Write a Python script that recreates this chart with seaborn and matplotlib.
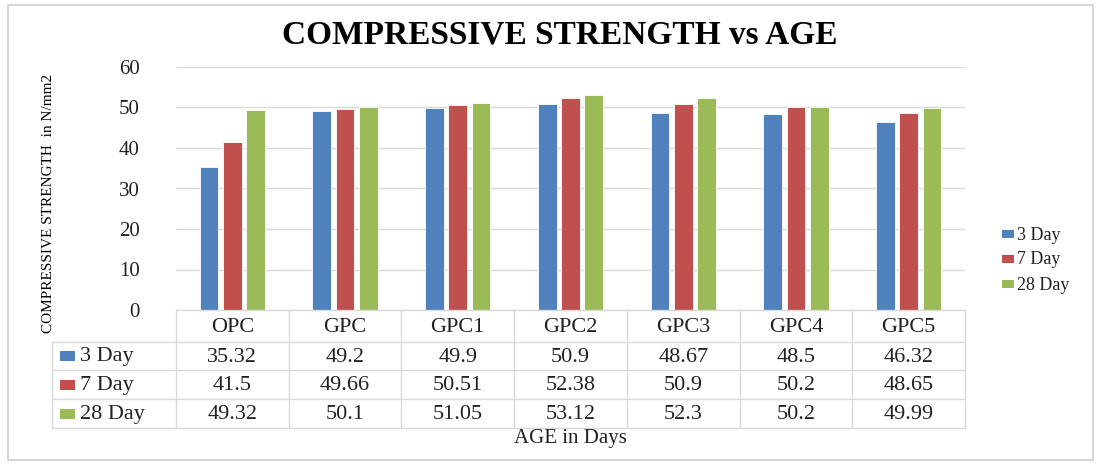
import matplotlib
matplotlib.use("Agg")
import matplotlib.pyplot as plt
import seaborn as sns
import pandas as pd
from matplotlib.patches import Rectangle

categories = ["OPC", "GPC", "GPC1", "GPC2", "GPC3", "GPC4", "GPC5"]
series = ["3 Day", "7 Day", "28 Day"]
day3 = [35.32, 49.2, 49.9, 50.9, 48.67, 48.5, 46.32]
day7 = [41.5, 49.66, 50.51, 52.38, 50.9, 50.2, 48.65]
day28 = [49.32, 50.1, 51.05, 53.12, 52.3, 50.2, 49.99]
colors = ["#4F81BD", "#C0504D", "#9BBB59"]
yticks = [0, 10, 20, 30, 40, 50, 60]

values = [day3, day7, day28]
df = pd.DataFrame({
    "Material": categories * 3,
    "Age": [s for s in series for _ in categories],
    "Strength": day3 + day7 + day28,
})

sns.set_theme(style="white")
plt.rcParams["font.family"] = ["Liberation Serif", "DejaVu Serif"]

W, H = 1100, 465
fig = plt.figure(figsize=(11, 4.65), dpi=100)

def fx(px):
    return px / W

def fy(py):
    return 1 - py / H

# outer chart frame
fig.add_artist(Rectangle((fx(8), fy(460)), fx(1093) - fx(8), fy(5) - fy(460),
                         transform=fig.transFigure, fill=False,
                         edgecolor="#d0d0d0", linewidth=1.2))

# main bar axes
L, R, T, B = 176, 965, 67, 310
ax = fig.add_axes([fx(L), fy(B), fx(R) - fx(L), fy(T) - fy(B)])
sns.barplot(data=df, x="Material", y="Strength", hue="Age", order=categories,
            hue_order=series, palette=colors, width=0.62, gap=0.2,
            edgecolor="white", linewidth=0.6, saturation=1, ax=ax, legend=False)
ax.set_ylim(0, 60)
ax.set_yticks(yticks)
ax.set_yticklabels([str(t) for t in yticks], fontsize=15, color="#222222")
ax.tick_params(axis="y", length=0, pad=26)
ax.set_xticks([])
ax.set_xlabel("")
ax.set_ylabel("")
for s in ax.spines.values():
    s.set_visible(False)
ax.yaxis.grid(True, color="#d9d9d9", linewidth=1.0)
ax.set_axisbelow(True)
ax.set_xlim(-0.5, len(categories) - 0.5)

# title and axis labels
fig.text(fx(560), fy(35), "COMPRESSIVE STRENGTH vs AGE", ha="center", va="center",
         fontsize=24, fontweight="bold", color="black")
fig.text(fx(49), fy(203), "COMPRESSIVE STRENGTH  in N/mm2", ha="center", va="center",
         rotation=90, fontsize=11, color="black")
fig.text(fx(570), fy(438), "AGE in Days", ha="center", va="center",
         fontsize=15, color="#222222")

# data table under the plot, aligned to the category axis
rows_y = [310, 342, 370, 399, 428]
lab_left = 52
col_w = (R - L) / len(categories)
line_kw = dict(color="#d9d9d9", linewidth=1.0, transform=fig.transFigure)

def hline(y, x0, x1):
    fig.add_artist(plt.Line2D([fx(x0), fx(x1)], [fy(y), fy(y)], **line_kw))

def vline(x, y0, y1):
    fig.add_artist(plt.Line2D([fx(x), fx(x)], [fy(y0), fy(y1)], **line_kw))

hline(rows_y[0], L, R)
for y in rows_y[1:]:
    hline(y, lab_left, R)
vline(lab_left, rows_y[1], rows_y[-1])
for i in range(len(categories) + 1):
    vline(L + i * col_w, rows_y[0], rows_y[-1])

for i, cat in enumerate(categories):
    cx = L + (i + 0.5) * col_w
    fig.text(fx(cx), fy((rows_y[0] + rows_y[1]) / 2 + 1), cat, ha="center",
             va="center", fontsize=16, color="#222222")
    for r, vals in enumerate(values):
        cy = (rows_y[r + 1] + rows_y[r + 2]) / 2 + 1
        fig.text(fx(cx), fy(cy), f"{vals[i]:g}", ha="center", va="center",
                 fontsize=16, color="#222222")

for r, (name, col) in enumerate(zip(series, colors)):
    cy = (rows_y[r + 1] + rows_y[r + 2]) / 2
    fig.add_artist(Rectangle((fx(60), fy(cy + 5)), fx(15), fy(cy - 5) - fy(cy + 5),
                             transform=fig.transFigure, facecolor=col,
                             edgecolor="none"))
    fig.text(fx(80), fy(cy + 1), name, ha="left", va="center", fontsize=16,
             color="#222222")

# series legend on the right
for r, (name, col) in enumerate(zip(series, colors)):
    cy = 234 + r * 25
    fig.add_artist(Rectangle((fx(1002), fy(cy + 4)), fx(12), fy(cy - 4) - fy(cy + 4),
                             transform=fig.transFigure, facecolor=col,
                             edgecolor="none"))
    fig.text(fx(1017), fy(cy + 1), name, ha="left", va="center", fontsize=13,
             color="#222222")

fig.savefig("out.png", dpi=100)
